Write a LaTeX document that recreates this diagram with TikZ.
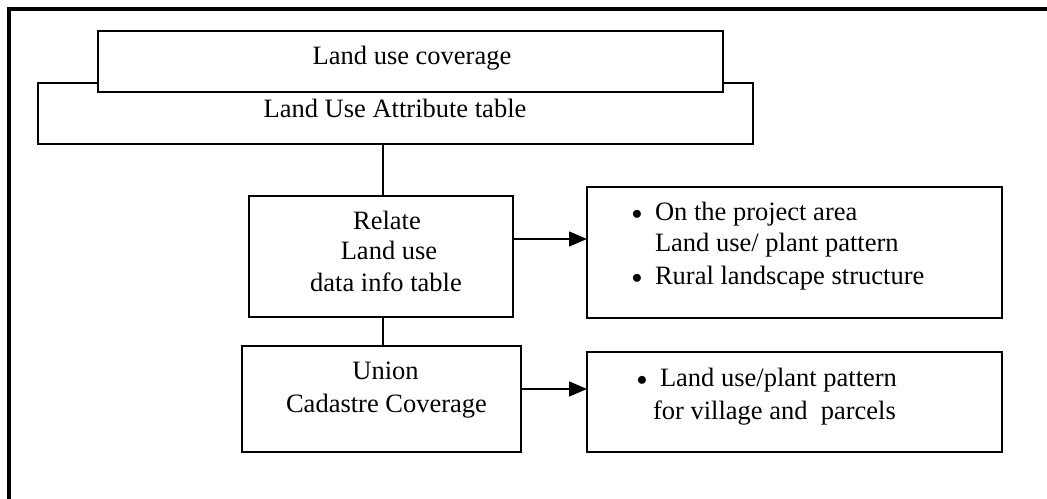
\documentclass[tikz,border=0pt]{standalone}
\usepackage{fontspec}
\setmainfont{Liberation Serif}
\usetikzlibrary{arrows.meta}
\begin{document}
\begin{tikzpicture}[x=1bp,y=-1bp,
  box/.style={draw,line width=1.3bp,inner sep=0pt,outer sep=0pt,fill=white},
  outbox/.style={box,line width=1.6bp},
  txt/.style={inner sep=0pt,outer sep=0pt,anchor=base,font=\fontsize{26.5bp}{30bp}\selectfont},
  txtl/.style={txt,anchor=base west},
  bul/.style={inner sep=0pt,outer sep=0pt,anchor=base,font=\fontsize{20.6bp}{20bp}\selectfont},
  link/.style={line width=1.3bp},
  arr/.style={line width=1.3bp,-{Triangle[length=18bp,width=15bp]}}]
\useasboundingbox (0,0) rectangle (1047,499);
\draw[line width=4bp] (8.7,499) -- (8.7,8.7) -- (1047,8.7);

% boxes
\node[box,minimum width=715bp,minimum height=61bp] (attr) at (395.5,113.5) {};
\node[box,minimum width=625bp,minimum height=61bp] (cov) at (410.5,61.5) {};
\node[box,minimum width=264bp,minimum height=121bp] (relate) at (381,256.5) {};
\node[box,minimum width=279bp,minimum height=106bp] (union) at (381.5,399) {};
\node[outbox,minimum width=415bp,minimum height=131bp] (box1) at (794.5,252.5) {};
\node[outbox,minimum width=415bp,minimum height=100bp] (box2) at (794.5,402) {};

% texts
\node[txt] (tcov) at (412,65) {Land use coverage};
\node[txt] (tattr) at (395,118) {Land Use Attribute table};
\node[txt] (rel1) at (387,230) {Relate};
\node[txt] (rel2) at (389,260) {Land use};
\node[txt] (rel3) at (386,292) {data info table};
\node[txt] (un1) at (385.5,380) {Union};
\node[txt] (un2) at (386.5,412) {Cadastre Coverage};
\node[bul] (b1) at (637,221) {\raisebox{1.9bp}{$\bullet$}};
\node[txtl] (p1a) at (655,221) {On the project area};
\node[txtl] (p1b) at (655,252) {Land use/ plant pattern};
\node[bul] (b2) at (637,285) {\raisebox{1.9bp}{$\bullet$}};
\node[txtl] (p1c) at (655,285) {Rural landscape structure};
\node[bul] (b3) at (642,387) {\raisebox{1.9bp}{$\bullet$}};
\node[txtl] (p2a) at (660,387) {Land use/plant pattern};
\node[txtl] (p2b) at (653,419) {for village and~ parcels};

% connectors
\coordinate (c1) at (383,0);
\draw[link] (c1 |- attr.south) -- (c1 |- relate.north);
\draw[link] (c1 |- relate.south) -- (c1 |- union.north);
\coordinate (a1) at (0,239);
\coordinate (a2) at (0,389);
\draw[arr] (a1 -| relate.east) -- (a1 -| box1.west);
\draw[arr] (a2 -| union.east) -- (a2 -| box2.west);
\end{tikzpicture}
\end{document}
